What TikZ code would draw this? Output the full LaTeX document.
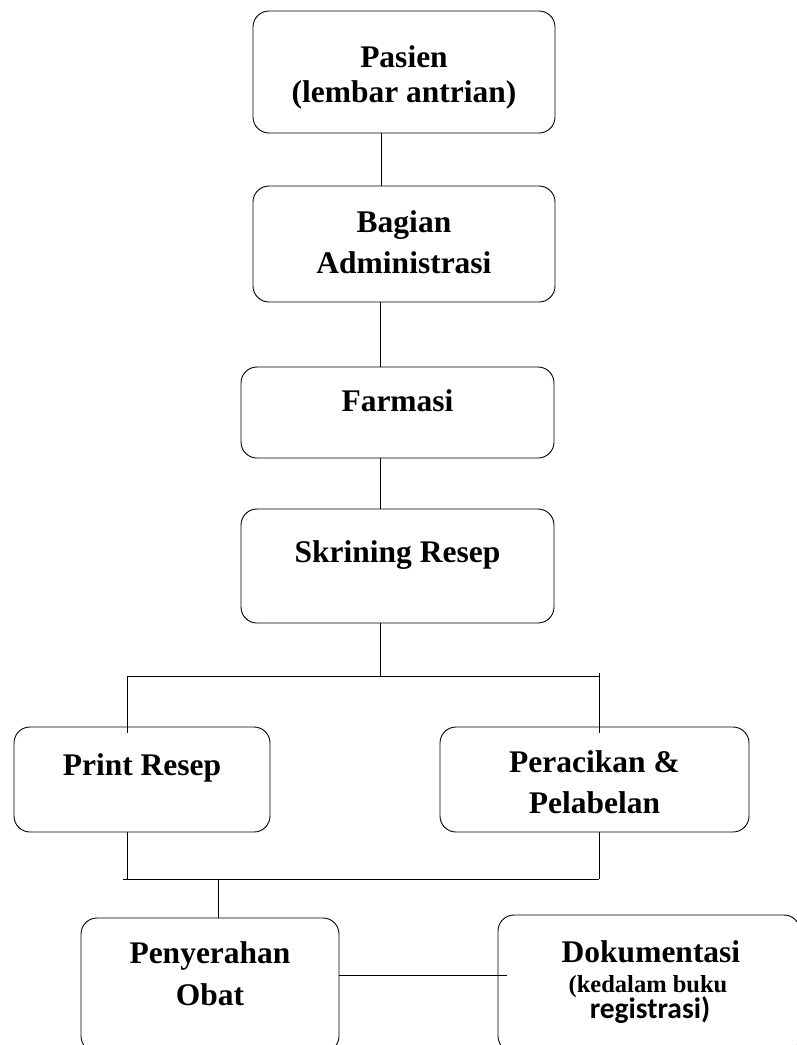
\documentclass[tikz,border=0pt]{standalone}
\usepackage{fontspec}
\newfontfamily\tnrfont{Liberation Serif}
\newfontfamily\califont{Carlito}
\begin{document}
\begin{tikzpicture}[x=1pt,y=-1pt,
  flowbox/.style={draw=black, line width=0.9pt, rounded corners=16pt, rectangle, inner sep=0pt},
  lbl/.style={anchor=base, inner sep=0pt, font=\tnrfont\bfseries\fontsize{31.5}{31.5}\selectfont},
  smalllbl/.style={anchor=base, inner sep=0pt, font=\tnrfont\bfseries\fontsize{24.5}{24.5}\selectfont},
  callbl/.style={anchor=base, inner sep=0pt, font=\califont\bfseries\fontsize{29.5}{29.5}\selectfont},
  conn/.style={draw=black, line width=0.8pt}]
\fill[white] (0,0) rectangle (796,1045);
\useasboundingbox (0,0) rectangle (796,1045);

% boxes
\node[flowbox, minimum width=302pt, minimum height=122pt] (pasien) at (404,72) {};
\node[flowbox, minimum width=302pt, minimum height=116pt] (bagian) at (404,244) {};
\node[flowbox, minimum width=313pt, minimum height=91pt] (farmasi) at (397.5,412.5) {};
\node[flowbox, minimum width=313pt, minimum height=114pt] (skrining) at (397.5,566) {};
\node[flowbox, minimum width=256pt, minimum height=105pt] (print) at (142,779.5) {};
\node[flowbox, minimum width=309pt, minimum height=105pt] (peracikan) at (594.5,779.5) {};
\node[flowbox, minimum width=258pt, minimum height=134pt] (penyerahan) at (210,985) {};
\node[flowbox, minimum width=302pt, minimum height=137pt] (dok) at (649,983.5) {};

% texts
\node[lbl] (t1a) at (404,67) {Pasien};
\node[lbl] (t1b) at (404,102) {(lembar antrian)};
\node[lbl] (t2a) at (404,232) {Bagian};
\node[lbl] (t2b) at (404,273) {Administrasi};
\node[lbl] (t3) at (397.5,411) {Farmasi};
\node[lbl] (t4) at (397.5,562) {Skrining Resep};
\node[lbl] (t5) at (142,775) {Print Resep};
\node[lbl] (t6a) at (594.5,772) {Peracikan \&};
\node[lbl] (t6b) at (594.5,813) {Pelabelan};
\node[lbl] (t7a) at (210,963) {Penyerahan};
\node[lbl] (t7b) at (210,1005) {Obat};
\node[lbl] (t8a) at (651,962) {Dokumentasi};
\node[smalllbl] (t8b) at (648,992) {(kedalam buku};
\node[callbl] (t8c) at (650,1018) {registrasi)};

% helper coordinates
\coordinate (cA) at (381,0);
\coordinate (cB) at (380,0);
\coordinate (jTop) at (380,676);
\coordinate (jTL) at (127,676);
\coordinate (jTR) at (599,676);
\coordinate (jBL) at (123,879);
\coordinate (jBR) at (599,879);
\coordinate (jBM) at (218,879);
\coordinate (dokIn) at (507,975);

% connectors
\draw[conn] (pasien.south -| cA) -- (bagian.north -| cA);
\draw[conn] (bagian.south -| cB) -- (farmasi.north -| cB);
\draw[conn] (farmasi.south -| cB) -- (skrining.north -| cB);
\draw[conn] (skrining.south -| cB) -- (jTop);
\draw[conn] (jTL) -- (jTR);
\draw[conn, shorten >=-6pt] (jTL) -- (print.north -| jTL);
\draw[conn, shorten <=-3pt, shorten >=-6pt] (jTR) -- (peracikan.north -| jTR);
\draw[conn] (print.south -| 127,0) -- (127,879);
\draw[conn] (peracikan.south -| jBR) -- (jBR);
\draw[conn] (jBL) -- (jBR);
\draw[conn] (jBM) -- (penyerahan.north -| jBM);
\draw[conn] (penyerahan.east |- dokIn) -- (dokIn);
\end{tikzpicture}
\end{document}
